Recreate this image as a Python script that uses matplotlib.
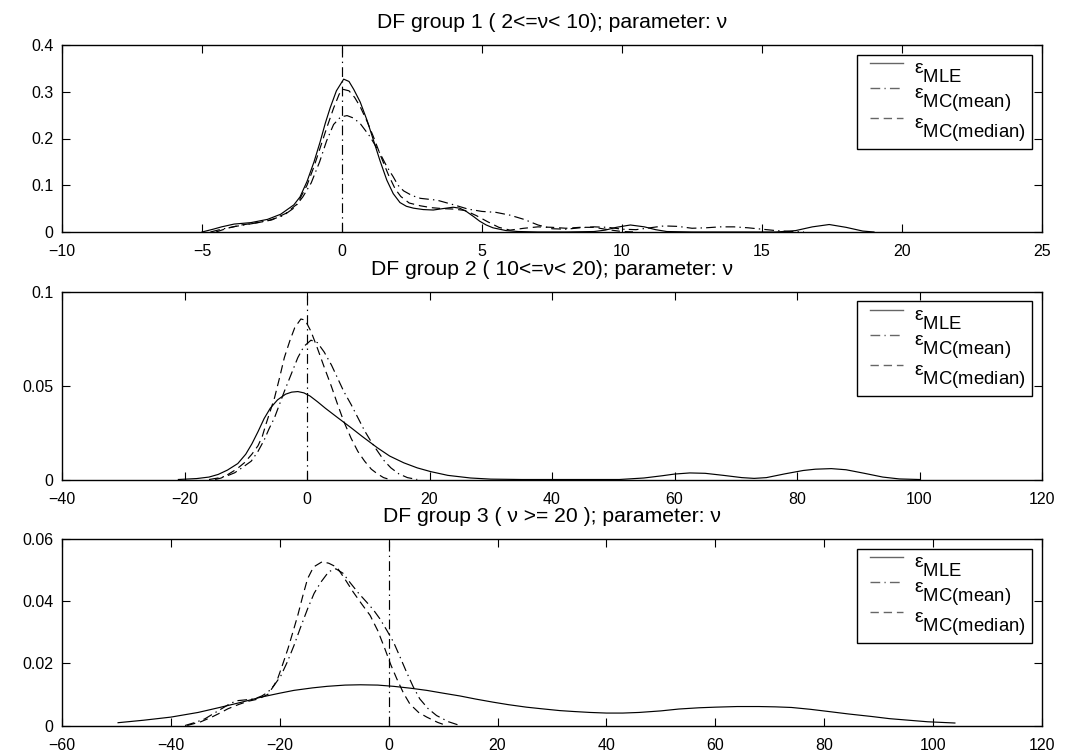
import matplotlib
matplotlib.use("Agg")
import numpy as np
import matplotlib.pyplot as plt
import matplotlib._mathtext as _mt
from matplotlib.lines import Line2D
from matplotlib.legend_handler import HandlerLine2D
from matplotlib.ticker import FuncFormatter, MultipleLocator

plt.rcParams['font.family'] = ['Liberation Sans', 'DejaVu Sans']
plt.rcParams['mathtext.fontset'] = 'custom'
plt.rcParams['mathtext.rm'] = 'Liberation Sans'
plt.rcParams['mathtext.it'] = 'Liberation Sans:italic'
plt.rcParams['lines.scale_dashes'] = False
# large, deeply dropped subscripts, as in the original legend
_mt.SHRINK_FACTOR = 0.95
_mt.FontConstantsBase.sub1 = 0.92

# ---------------- data ----------------
titles = ['DF group 1 ( 2<=ν< 10); parameter: ν',
          'DF group 2 ( 10<=ν< 20); parameter: ν',
          'DF group 3 ( ν >= 20 ); parameter: ν']
labels = [r'$\mathrm{ε}_{\mathrm{MLE}}$', r'$\mathrm{ε}_{\mathrm{MC(mean)}}$', r'$\mathrm{ε}_{\mathrm{MC(median)}}$']

# group 1
g1_mle_x = [-5.0, -4.6, -4.3, -3.85, -3.26, -2.66, -2.19, -1.72, -1.5, -1.25, -1.0, -0.78, -0.6, -0.42, -0.2,
            0.06, 0.25, 0.42, 0.65, 0.9, 1.12, 1.36, 1.6, 1.83, 2.07, 2.3, 2.55, 2.9, 3.26, 3.6, 3.97, 4.2,
            4.44, 4.7, 4.92, 5.15, 5.39, 5.86, 6.3, 7.0, 8.0, 9.0, 9.4, 9.8, 10.3, 10.8, 11.2, 11.6, 12.5,
            14.0, 15.5, 16.2, 16.8, 17.4, 18.0, 18.6, 19.0]
g1_mle_y = [0.000, 0.006, 0.011, 0.017, 0.020, 0.027, 0.038, 0.058, 0.075, 0.108, 0.150, 0.193, 0.232, 0.266, 0.302,
            0.327, 0.322, 0.305, 0.278, 0.238, 0.197, 0.152, 0.111, 0.082, 0.063, 0.055, 0.051, 0.048, 0.047, 0.050,
            0.053, 0.051, 0.044, 0.033, 0.023, 0.015, 0.009, 0.003, 0.001, 0.000, 0.000, 0.001, 0.004, 0.010, 0.015,
            0.011, 0.005, 0.001, 0.000, 0.000, 0.000, 0.003, 0.011, 0.016, 0.010, 0.002, 0.000]
g1_mean_x = [-4.7, -4.3, -3.8, -3.2, -2.6, -2.1, -1.7, -1.4, -1.1, -0.8, -0.55, -0.3, -0.05, 0.18, 0.4, 0.65,
             1.0, 1.36, 1.6, 1.83, 2.0, 2.2, 2.5, 2.8, 3.4, 4.0, 4.5, 5.0, 5.5, 6.0, 6.5, 7.0, 7.5, 8.0, 8.5,
             9.0, 9.5, 10.0, 10.5, 11.0, 11.5, 12.0, 12.5, 13.0, 13.5, 14.0, 14.5, 15.0, 15.5, 16.0, 16.5]
g1_mean_y = [0.000, 0.006, 0.012, 0.018, 0.025, 0.035, 0.052, 0.075, 0.105, 0.150, 0.195, 0.230, 0.246, 0.249,
             0.244, 0.232, 0.204, 0.168, 0.140, 0.118, 0.100, 0.088, 0.078, 0.072, 0.068, 0.058, 0.049, 0.044,
             0.042, 0.036, 0.027, 0.015, 0.007, 0.006, 0.009, 0.011, 0.010, 0.006, 0.005, 0.009, 0.013, 0.012,
             0.008, 0.009, 0.011, 0.011, 0.009, 0.006, 0.003, 0.001, 0.000]
g1_med_x = [-4.5, -4.1, -3.6, -3.0, -2.5, -2.0, -1.6, -1.25, -1.0, -0.78, -0.55, -0.3, -0.1, 0.05, 0.25, 0.45,
            0.65, 0.9, 1.12, 1.4, 1.66, 1.9, 2.1, 2.4, 2.8, 3.2, 3.6, 4.0, 4.4, 4.8, 5.2, 5.6, 6.0, 6.5, 7.0,
            7.5, 8.0, 8.5, 9.0, 9.5, 10.0, 10.5]
g1_med_y = [0.000, 0.008, 0.015, 0.020, 0.026, 0.040, 0.060, 0.100, 0.140, 0.180, 0.222, 0.265, 0.295, 0.305,
            0.302, 0.288, 0.268, 0.236, 0.204, 0.160, 0.122, 0.092, 0.076, 0.062, 0.056, 0.052, 0.050, 0.049,
            0.046, 0.035, 0.022, 0.010, 0.004, 0.008, 0.011, 0.010, 0.008, 0.010, 0.010, 0.005, 0.001, 0.000]

# group 2
g2_mle_x = [-21, -18, -16, -14.5, -13, -11.3, -10, -9, -8, -7, -6, -4.8, -3.5, -2.5, -1.5, -0.5, 0.5, 1.7, 3,
            5, 7.2, 9, 11.5, 13.5, 15.8, 18, 20.2, 23, 26.7, 30, 35, 45, 51, 55, 58, 60, 62.5, 65, 68, 71, 73,
            75, 78, 81, 83, 85.6, 88, 91, 94, 96.7, 100]
g2_mle_y = [0.0000, 0.0005, 0.0013, 0.0027, 0.0050, 0.0085, 0.0135, 0.0190, 0.0255, 0.0325, 0.0380, 0.0425,
            0.0455, 0.0466, 0.0469, 0.0462, 0.0445, 0.0415, 0.0380, 0.0330, 0.0276, 0.0230, 0.0169, 0.0125,
            0.0089, 0.0062, 0.0042, 0.0022, 0.0008, 0.0002, 0.0000, 0.0000, 0.0000, 0.0008, 0.0020, 0.0029,
            0.0035, 0.0033, 0.0022, 0.0010, 0.0006, 0.0010, 0.0030, 0.0048, 0.0055, 0.0058, 0.0052, 0.0033,
            0.0013, 0.0003, 0.0000]
g2_mean_x = [-16, -14.5, -13, -11.8, -10.5, -9.1, -8, -7, -6.2, -5.3, -4.5, -3.7, -2.6, -1.5, -0.5, 0.65, 1.7,
             2.8, 4, 5, 6, 7.2, 8.3, 9.4, 10.5, 11.5, 12.6, 13.7, 15, 16.4, 18]
g2_mean_y = [0.0000, 0.0008, 0.0020, 0.0036, 0.0065, 0.0098, 0.0150, 0.0210, 0.0270, 0.0330, 0.0400, 0.0470,
             0.0560, 0.0650, 0.0710, 0.0743, 0.0730, 0.0680, 0.0610, 0.0540, 0.0470, 0.0400, 0.0330, 0.0260,
             0.0200, 0.0152, 0.0100, 0.0062, 0.0030, 0.0010, 0.0000]
g2_med_x = [-15, -14, -12.9, -11.5, -10.2, -9, -8, -7.3, -6.7, -6, -5.3, -4.5, -3.7, -2.8, -2, -1, -0.3, 0.65,
            1.7, 2.8, 4, 5, 6, 7.2, 8.3, 9.4, 10.5, 11.5, 12.5, 13.5]
g2_med_y = [0.0000, 0.0008, 0.0027, 0.0055, 0.0090, 0.0135, 0.0180, 0.0230, 0.0295, 0.0365, 0.0436, 0.0540,
            0.0650, 0.0740, 0.0810, 0.0856, 0.0850, 0.0790, 0.0700, 0.0600, 0.0495, 0.0400, 0.0310, 0.0220,
            0.0150, 0.0098, 0.0055, 0.0030, 0.0010, 0.0000]

# group 3
g3_mle_x = [-49.7, -45, -40, -35, -30.8, -27, -23.5, -20, -17.4, -14, -11.3, -8, -5.2, -2, 0.9, 4, 7, 10,
            13.1, 16, 19.2, 22, 25.3, 28, 31.4, 34, 37, 40, 43, 46, 50, 53.3, 57, 60, 64, 68, 71, 74, 77.5,
            80.8, 84.5, 88.7, 92, 94.8, 99, 104]
g3_mle_y = [0.0009, 0.0017, 0.0027, 0.0042, 0.0059, 0.0075, 0.0091, 0.0104, 0.0113, 0.0121, 0.0126, 0.0130,
            0.0131, 0.0130, 0.0126, 0.0120, 0.0113, 0.0104, 0.0095, 0.0085, 0.0075, 0.0067, 0.0059, 0.0054,
            0.0048, 0.0045, 0.0042, 0.0040, 0.0040, 0.0042, 0.0047, 0.0053, 0.0057, 0.0059, 0.0061, 0.0061,
            0.0060, 0.0058, 0.0052, 0.0045, 0.0037, 0.0029, 0.0022, 0.0018, 0.0012, 0.0008]
g3_mean_x = [-37.4, -35.5, -33.8, -32, -30.2, -29, -27.7, -26, -24.6, -23.3, -22.2, -21, -19.8, -18.6, -17.4,
             -16.2, -14.9, -13.7, -12.5, -11, -9.7, -8.4, -7.1, -5.5, -4.0, -2.8, -1.6, -0.3, 0.9, 2.1, 3.3,
             4.5, 5.7, 7.2, 8.8, 11, 13.1]
g3_mean_y = [0.0000, 0.0010, 0.0021, 0.0040, 0.0059, 0.0072, 0.0080, 0.0083, 0.0086, 0.0095, 0.0107, 0.0130,
             0.0160, 0.0205, 0.0257, 0.0315, 0.0375, 0.0425, 0.0460, 0.0495, 0.0504, 0.0490, 0.0460, 0.0425,
             0.0396, 0.0372, 0.0343, 0.0305, 0.0268, 0.0220, 0.0171, 0.0125, 0.0086, 0.0055, 0.0032, 0.0012,
             0.0000]
g3_med_x = [-37, -34.5, -32.5, -31, -29.5, -27.5, -25.8, -24, -22.2, -21.2, -20.4, -19.5, -18.5, -17.6, -16.7,
            -15.8, -14.9, -13.8, -12.2, -11, -9.5, -8, -6.5, -5, -3.4, -2, -0.7, 0.4, 1.5, 2.7, 3.9, 5.5, 7.0,
            9, 10.6]
g3_med_y = [0.0000, 0.0012, 0.0027, 0.0040, 0.0054, 0.0068, 0.0078, 0.0085, 0.0100, 0.0125, 0.0150, 0.0195,
            0.0247, 0.0300, 0.0354, 0.0415, 0.0472, 0.0510, 0.0527, 0.0522, 0.0509, 0.0470, 0.0429, 0.0392,
            0.0354, 0.0305, 0.0247, 0.0195, 0.0150, 0.0105, 0.0069, 0.0042, 0.0027, 0.0010, 0.0000]

xlims = [(-10, 25), (-40, 120), (-60, 120)]
xsteps = [5, 20, 20]
ylims = [(0, 0.4), (0, 0.1), (0, 0.06)]
ysteps = [0.1, 0.05, 0.02]

groups = [
    ((g1_mle_x, g1_mle_y), (g1_mean_x, g1_mean_y), (g1_med_x, g1_med_y)),
    ((g2_mle_x, g2_mle_y), (g2_mean_x, g2_mean_y), (g2_med_x, g2_med_y)),
    ((g3_mle_x, g3_mle_y), (g3_mean_x, g3_mean_y), (g3_med_x, g3_med_y)),
]


class RaisedLineHandler(HandlerLine2D):
    """Legend key drawn level with the epsilon rather than the label centre."""
    def create_artists(self, legend, orig_handle, xdescent, ydescent, width, height, fontsize, trans):
        arts = super().create_artists(legend, orig_handle, xdescent, ydescent, width, height, fontsize, trans)
        for a in arts:
            a.set_ydata(np.asarray(a.get_ydata()) + 0.2 * fontsize)
        return arts


# ---------------- figure ----------------
W, H = 1066, 756
fig = plt.figure(figsize=(W / 100, H / 100), dpi=100)
boxes = [(62, 45, 232), (62, 292, 479.5), (62, 539, 725.5)]
right_px = 1042

DASHDOT = (0, (7, 3, 1, 3))
DASHED = (0, (6, 3.5))
styles = ['-', DASHDOT, DASHED]
lw = 0.85

fmt = FuncFormatter(lambda v, p: ('%g' % round(v, 6)).replace('-', '\u2212'))

for i, (grp, (l, t, b)) in enumerate(zip(groups, boxes)):
    ax = fig.add_axes([l / W, 1 - b / H, (right_px - l) / W, (b - t) / H])
    for (xs, ys), st in zip(grp, styles):
        ax.plot(xs, ys, color='black', lw=lw, linestyle=st)
    ax.axvline(0, color='black', lw=lw, linestyle=DASHDOT)
    ax.set_xlim(*xlims[i])
    ax.set_ylim(*ylims[i])
    ax.xaxis.set_major_locator(MultipleLocator(xsteps[i]))
    ax.yaxis.set_major_locator(MultipleLocator(ysteps[i]))
    ax.xaxis.set_major_formatter(fmt)
    ax.yaxis.set_major_formatter(fmt)
    ax.tick_params(direction='in', top=True, right=True, length=5.5, width=0.8,
                   labelsize=11.5, colors='black')
    ax.tick_params(axis='x', pad=9)
    ax.tick_params(axis='y', pad=6)
    for sp in ax.spines.values():
        sp.set_linewidth(1.0)
    ax.set_title(titles[i], fontsize=15.2, pad=12)

    handles = [Line2D([], [], color='0.4', lw=1.0, linestyle=st) for st in styles]
    axw = right_px - l
    axh = b - t
    leg = ax.legend(handles, labels, loc='upper right',
                    bbox_to_anchor=(1 - 10 / axw, 1 - 9.5 / axh),
                    borderaxespad=0, fontsize=14, handlelength=2.05,
                    handletextpad=0.6, labelspacing=0.02, borderpad=0.3,
                    fancybox=False, framealpha=1, edgecolor='black',
                    handler_map={Line2D: RaisedLineHandler(xpad=0.37)})
    leg.get_frame().set_linewidth(1.0)

fig.savefig('out.png', dpi=100)
